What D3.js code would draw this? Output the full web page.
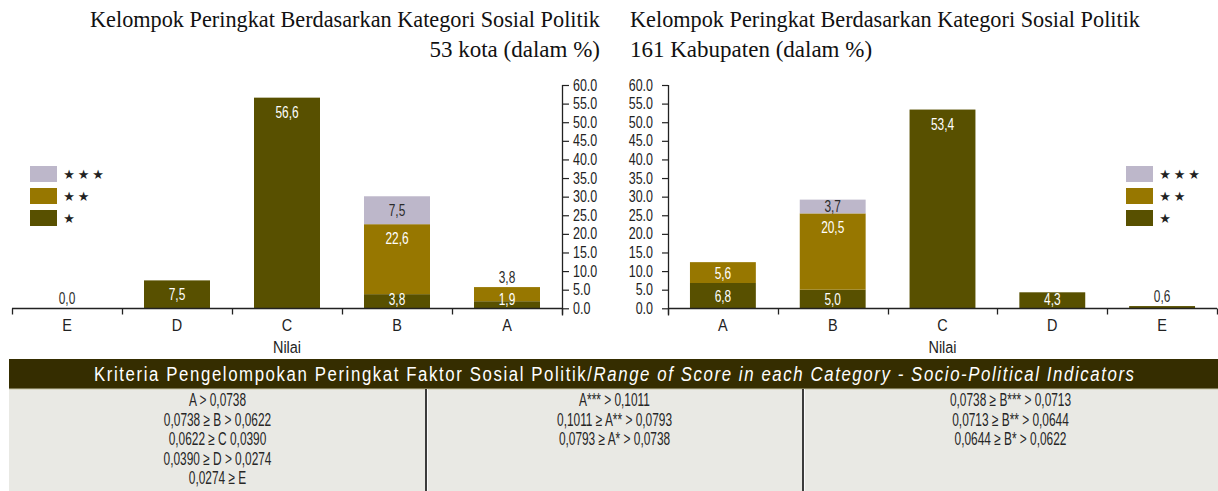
<!DOCTYPE html>
<html><head><meta charset="utf-8">
<script src="https://cdn.jsdelivr.net/npm/d3@7"></script>
<style>body{margin:0;background:#fff} svg{display:block}</style>
</head><body><svg id="c" width="1218" height="491"></svg>
<script>
// ---------- data ----------
const kotaCategories = ["E", "D", "C", "B", "A"];
const kotaStar1 = [0.0, 7.5, 56.6, 3.8, 1.9];
const kotaStar2 = [0.0, 0.0, 0.0, 18.8, 3.8];   // bar lengths as drawn in the picture
const kotaStar3 = [0.0, 0.0, 0.0, 7.5, 0.0];
const kotaLabels1 = ["0,0", "7,5", "56,6", "3,8", "1,9"];
const kotaLabels2 = ["", "", "", "22,6", "3,8"];
const kotaLabels3 = ["", "", "", "7,5", ""];

const kabCategories = ["A", "B", "C", "D", "E"];
const kabStar1 = [6.8, 5.0, 53.4, 4.3, 0.6];
const kabStar2 = [5.6, 20.5, 0.0, 0.0, 0.0];
const kabStar3 = [0.0, 3.7, 0.0, 0.0, 0.0];
const kabLabels1 = ["6,8", "5,0", "53,4", "4,3", "0,6"];
const kabLabels2 = ["5,6", "20,5", "", "", ""];
const kabLabels3 = ["", "3,7", "", "", ""];

const yTicks = [0, 5, 10, 15, 20, 25, 30, 35, 40, 45, 50, 55, 60];
const legendStars = [3, 2, 1];
const xAxisTitle = "Nilai";
const kotaTitle = ["Kelompok Peringkat Berdasarkan Kategori Sosial Politik", "53 kota (dalam %)"];
const kabTitle = ["Kelompok Peringkat Berdasarkan Kategori Sosial Politik", "161 Kabupaten (dalam %)"];
const tableHeadNormal = "Kriteria Pengelompokan Peringkat Faktor Sosial Politik/";
const tableHeadItalic = "Range of Score in each Category - Socio-Political Indicators";
const criteriaCol1 = ["A > 0,0738", "0,0738 ≥ B > 0,0622", "0,0622 ≥ C 0,0390", "0,0390 ≥ D > 0,0274", "0,0274 ≥ E"];
const criteriaCol2 = ["A*** > 0,1011", "0,1011 ≥ A** > 0,0793", "0,0793 ≥ A* > 0,0738"];
const criteriaCol3 = ["0,0738 ≥ B*** > 0,0713", "0,0713 ≥ B** > 0,0644", "0,0644 ≥ B* > 0,0622"];

// ---------- styles ----------
const SANS = "'Liberation Sans',Arial,'Roboto',sans-serif";
const SERIF = "'Liberation Serif','DejaVu Serif',serif";
const colors = ["#585000", "#977700", "#bdb7ca"];
const labelColors = ["#ffffff", "#ffffff", "#2b2b2b"];

const svg = d3.select("#c");
const y = d3.scaleLinear().domain([0, 60]).range([308.3, 85]);

// condensed text placed at (x,y)
function ctext(parent, x, yy, txt, size, anchor, fill, sx) {
  return parent.append("text")
    .attr("transform", `translate(${x},${yy}) scale(${sx},1)`)
    .attr("dy", "0.35em").attr("text-anchor", anchor)
    .style("font-family", SANS).style("font-size", size + "px").attr("fill", fill).text(txt);
}
// condense the texts an axis produced
function condenseAxisTexts(sel, size, sx) {
  sel.selectAll("text").each(function () {
    const t = d3.select(this);
    const xv = +t.attr("x") || 0, yv = +t.attr("y") || 0;
    t.attr("x", 0).attr("y", 0).attr("transform", `translate(${xv},${yv}) scale(${sx},1)`)
      .style("font-family", SANS).style("font-size", size + "px").attr("fill", "#222");
  });
}

function drawChart(o) {
  const x = d3.scaleBand().domain(o.categories).range(o.xRange).paddingInner(0.4).paddingOuter(0.2);
  const rows = o.categories.map((c, i) => ({cat: c, s1: o.series[0][i], s2: o.series[1][i], s3: o.series[2][i], i}));
  const stack = d3.stack().keys(["s1", "s2", "s3"])(rows);
  const g = svg.append("g");

  stack.forEach((layer, li) => {
    g.selectAll(null).data(layer).join("rect")
      .attr("x", d => x(d.data.cat))
      .attr("width", x.bandwidth())
      .attr("y", d => y(d[1]))
      .attr("height", d => Math.max(0, y(d[0]) - y(d[1])))
      .attr("fill", colors[li]);
  });

  // value labels
  rows.forEach(r => {
    const total = r.s1 + r.s2 + r.s3;
    const topPx = y(total);
    let prevY = null;
    stack.forEach((layer, li) => {
      const d = layer[r.i];
      const txt = o.labels[li][r.i];
      if (!txt) return;
      const y0 = y(d[0]), y1 = y(d[1]);
      const h = y0 - y1;
      let ly, col = labelColors[li];
      if (h < 4) { ly = topPx - 10; col = "#2b2b2b"; }
      else {
        ly = Math.min(y1 + 14, (y0 + y1) / 2, 299);
        if (prevY !== null && prevY - ly < 12) { ly = topPx - 10.5; col = "#2b2b2b"; }
      }
      prevY = ly;
      ctext(g, x(r.cat) + x.bandwidth() / 2, ly, txt, 17, "middle", col, 0.7);
    });
  });

  // x axis line + ticks at band boundaries
  const y0 = Math.round(y(0)) + 0.5;
  g.append("line").attr("x1", o.xRange[0]).attr("x2", o.xRange[1]).attr("y1", y0).attr("y2", y0)
    .attr("stroke", "#222").attr("stroke-width", 1.3);
  const step = x.step();
  d3.range(o.categories.length + 1).forEach(i => {
    const tx = Math.round(o.xRange[0] + i * step) + 0.5;
    g.append("line").attr("x1", tx).attr("x2", tx).attr("y1", y0).attr("y2", y0 + 6)
      .attr("stroke", "#222").attr("stroke-width", 1.3);
  });
  const xa = g.append("g").attr("transform", `translate(0,${y0})`)
    .call(d3.axisBottom(x).tickSize(0).tickPadding(11));
  xa.select(".domain").remove();
  xa.selectAll("text").attr("dy", null).attr("y", 17);
  condenseAxisTexts(xa, 17, 0.85);
  xa.selectAll("text").attr("dy", "0.35em");
  ctext(g, (o.xRange[0] + o.xRange[1]) / 2, 347, xAxisTitle, 17, "middle", "#222", 0.85);

  // y axis
  const ax = o.yRight ? d3.axisRight(y).tickSize(7).tickPadding(4) : d3.axisLeft(y).tickSize(6).tickPadding(9);
  const ya = g.append("g").attr("transform", `translate(${o.yAxisX},0)`)
    .call(ax.tickValues(yTicks).tickFormat(d3.format(".1f")));
  ya.select(".domain").remove();
  ya.selectAll("line").attr("stroke", "#222").attr("stroke-width", 1.2);
  condenseAxisTexts(ya, 16, 0.78);
  g.append("line").attr("x1", o.yAxisX + 0.5).attr("x2", o.yAxisX + 0.5).attr("y1", y(60)).attr("y2", y0 + 7)
    .attr("stroke", "#222").attr("stroke-width", 1.3);

  // legend
  const lg = g.append("g");
  legendStars.forEach((n, i) => {
    const ly = 166 + i * 22;
    lg.append("rect").attr("x", o.legendX).attr("y", ly).attr("width", 27).attr("height", 16)
      .attr("fill", colors[2 - i]);
    d3.range(n).forEach(k => {
      lg.append("text").attr("x", o.legendX + 39 + k * 14.5).attr("y", ly + 8).attr("dy", "0.38em")
        .attr("text-anchor", "middle").style("font-family", "'DejaVu Sans',sans-serif")
        .style("font-size", "13px").attr("fill", "#222").text("★");
    });
  });

  // title
  const tg = g.append("g");
  o.title.forEach((t, i) => {
    const tt = tg.append("text").attr("x", o.titleX).attr("y", 27 + i * 30).attr("text-anchor", o.titleAnchor)
      .style("font-family", SERIF).style("font-size", "23px").attr("fill", "#111").text(t);
    if (i === 0) tt.attr("textLength", 510).attr("lengthAdjust", "spacingAndGlyphs");
  });
}

drawChart({
  categories: kotaCategories, series: [kotaStar1, kotaStar2, kotaStar3],
  labels: [kotaLabels1, kotaLabels2, kotaLabels3],
  xRange: [12, 562], yAxisX: 562, yRight: true, legendX: 30,
  title: kotaTitle, titleX: 600, titleAnchor: "end"
});
drawChart({
  categories: kabCategories, series: [kabStar1, kabStar2, kabStar3],
  labels: [kabLabels1, kabLabels2, kabLabels3],
  xRange: [668, 1217], yAxisX: 668, yRight: false, legendX: 1126,
  title: kabTitle, titleX: 630, titleAnchor: "start"
});

// ---------- criteria table ----------
const tbl = svg.append("g");
tbl.append("rect").attr("x", 9).attr("y", 359).attr("width", 1209).attr("height", 30).attr("fill", "#352d00");
tbl.append("rect").attr("x", 9).attr("y", 389).attr("width", 1209).attr("height", 102).attr("fill", "#e9e9e4");
tbl.append("line").attr("x1", 9).attr("x2", 1218).attr("y1", 389).attr("y2", 389).attr("stroke", "#c9c6a8").attr("stroke-width", 1);
const ht = ctext(tbl, 614, 374, null, 21, "middle", "#fff", 0.8)
  .attr("textLength", 1040 / 0.8).attr("lengthAdjust", "spacing");
ht.append("tspan").text(tableHeadNormal);
ht.append("tspan").style("font-style", "italic").text(tableHeadItalic);

[426, 803].forEach(xv => {
  tbl.append("line").attr("x1", xv).attr("x2", xv).attr("y1", 389).attr("y2", 491).attr("stroke", "#111").attr("stroke-width", 1.6);
  tbl.append("line").attr("x1", xv + 1.5).attr("x2", xv + 1.5).attr("y1", 389).attr("y2", 491).attr("stroke", "#fafafa").attr("stroke-width", 1);
});
const colCenters = [217.5, 614.5, 1010.5];
[criteriaCol1, criteriaCol2, criteriaCol3].forEach((col, ci) => {
  col.forEach((t, ri) => {
    ctext(tbl, colCenters[ci], 400 + ri * 19.5, t, 18, "middle", "#262626", 0.66);
  });
});
</script></body></html>
